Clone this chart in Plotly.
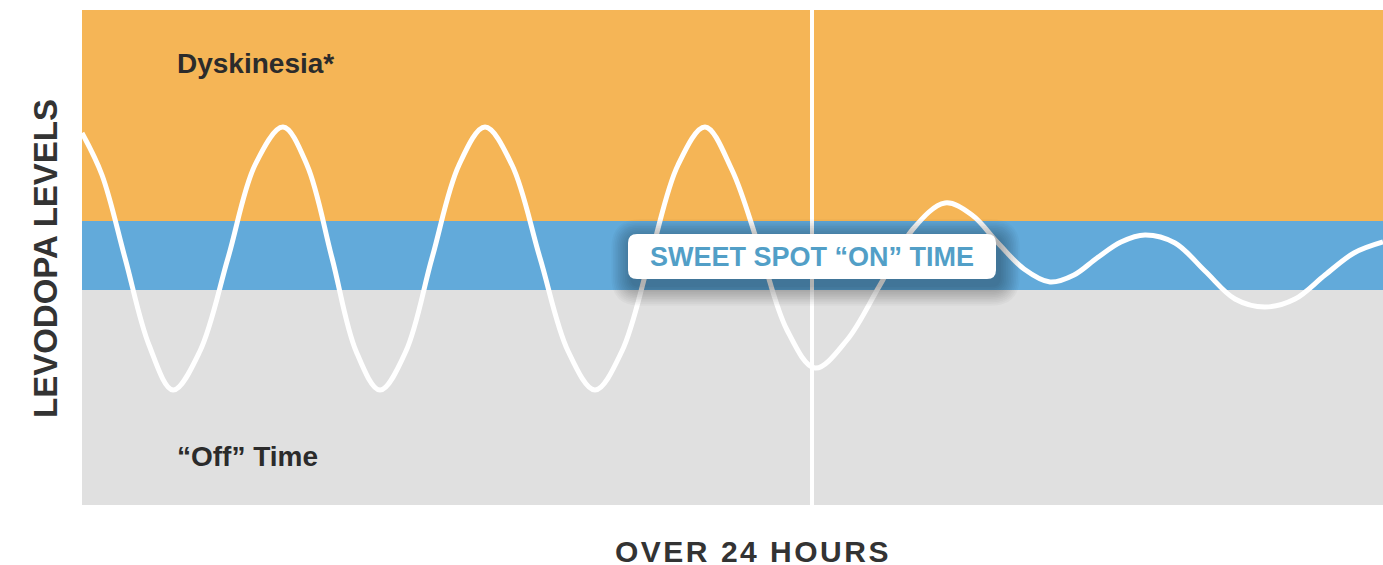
import plotly.graph_objects as go

# ---- data (arbitrary units; x spans the 24-hour window, y = levodopa level) ----
time_pts = [0, 20, 43, 67, 91, 118, 146, 173, 201, 225, 250, 274, 298, 324, 350, 377,
            403, 430, 458, 486, 513, 540, 568, 596, 623, 650, 678, 705, 733, 765, 798,
            831, 863, 890, 916, 942, 968, 992, 1015, 1039, 1063, 1093, 1123, 1153,
            1183, 1213, 1243, 1272, 1301]
levodopa = [372, 330, 247, 160, 115, 154, 247, 340, 378, 340, 247, 154, 115, 154, 247, 340,
            378, 340, 247, 154, 115, 154, 247, 340, 378, 335, 255, 175, 137, 165, 220,
            276, 302, 290, 262, 236, 223, 230, 247, 263, 270, 262, 234, 206,
            198, 206, 230, 252, 263]
x_range = [0, 1301]
y_range = [0, 495]
off_top = 215          # top of "off" zone
sweet_top = 284        # top of sweet-spot zone
switch_time = 730      # vertical divider

ORANGE = "#F5B556"
BLUE = "#62AADA"
GREY = "#E0E0E0"
DARK = "#2b2b2b"
FONT = "Liberation Sans"
HS = "\u200a"  # hair space for letter spacing

fig = go.Figure()

fig.add_trace(go.Scatter(
    x=time_pts, y=levodopa, mode="lines",
    line=dict(color="white", width=5, shape="spline", smoothing=1),
    hoverinfo="skip", showlegend=False))

shapes = [
    dict(type="rect", xref="x", yref="y", x0=x_range[0], x1=x_range[1], y0=y_range[0], y1=off_top,
         fillcolor=GREY, line_width=0, layer="below"),
    dict(type="rect", xref="x", yref="y", x0=x_range[0], x1=x_range[1], y0=off_top, y1=sweet_top,
         fillcolor=BLUE, line_width=0, layer="below"),
    dict(type="rect", xref="x", yref="y", x0=x_range[0], x1=x_range[1], y0=sweet_top, y1=y_range[1],
         fillcolor=ORANGE, line_width=0, layer="below"),
    dict(type="line", xref="x", yref="y", x0=switch_time, x1=switch_time, y0=y_range[0], y1=y_range[1],
         line=dict(color="white", width=4), layer="below"),
]


def rr(x0, y0, x1, y1, r):
    return (f"M{x0+r},{y0} L{x1-r},{y0} Q{x1},{y0} {x1},{y0+r} L{x1},{y1-r} "
            f"Q{x1},{y1} {x1-r},{y1} L{x0+r},{y1} Q{x0},{y1} {x0},{y1-r} "
            f"L{x0},{y0+r} Q{x0},{y0} {x0+r},{y0} Z")


bx0, bx1, by0, by1 = 546, 914, 226, 271
# soft shadow
for i in range(12):
    g = 1 + i * 1.7
    shapes.append(dict(type="path", xref="x", yref="y",
                       path=rr(bx0 - g + 3, by0 - g - 7, bx1 + g + 4, by1 + g - 5, 9 + g),
                       fillcolor="rgba(0,0,0,0.026)", line_width=0, layer="above"))
shapes.append(dict(type="path", xref="x", yref="y", path=rr(bx0, by0, bx1, by1, 9),
                   fillcolor="white", line_width=0, layer="above"))


def spaced(s):
    return HS.join(s)


annotations = [
    dict(text="Dyskinesia*", xref="x", yref="y", x=93, y=442, xanchor="left", yanchor="middle",
         showarrow=False, font=dict(family=FONT, size=28, color=DARK, weight="bold")),
    dict(text="“Off” Time", xref="x", yref="y", x=93, y=49, xanchor="left", yanchor="middle",
         showarrow=False, font=dict(family=FONT, size=28, color=DARK, weight="bold")),
    dict(text="SWEET SPOT “ON” TIME", xref="x", yref="y", x=(bx0 + bx1) / 2, y=(by0 + by1) / 2,
         xanchor="center", yanchor="middle", showarrow=False,
         font=dict(family=FONT, size=27, color="#529FC7", weight="bold")),
    dict(text=spaced("OVER 24 HOURS"), xref="paper", yref="paper", x=(751 - 82) / 1301, y=-46 / 495,
         xanchor="center", yanchor="middle", showarrow=False,
         font=dict(family=FONT, size=30, color="#333333", weight="bold")),
    dict(text="LEVODOPA LEVELS", xref="paper", yref="paper", x=(45 - 82) / 1301, y=(505 - 259) / 495,
         xanchor="center", yanchor="middle", textangle=-90, showarrow=False,
         font=dict(family=FONT, size=33, color="#333333", weight="bold")),
]

fig.update_layout(
    width=1383, height=565,
    margin=dict(l=82, r=0, t=10, b=60),
    paper_bgcolor="white", plot_bgcolor="white",
    xaxis=dict(range=x_range, visible=False, fixedrange=True),
    yaxis=dict(range=y_range, visible=False, fixedrange=True),
    shapes=shapes, annotations=annotations, showlegend=False,
)

fig.write_html(
    "out.html",
    config={"displayModeBar": False},
    post_script="document.body.style.margin='0';document.body.style.overflow='hidden';",
)
